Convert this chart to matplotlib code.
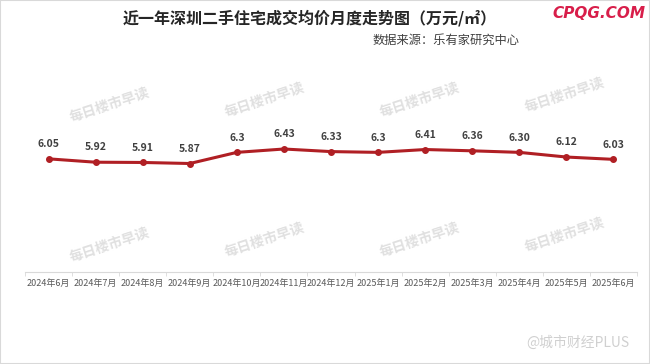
import matplotlib
matplotlib.use("Agg")
import matplotlib.pyplot as plt

plt.rcParams['font.family'] = ['Noto Sans CJK SC', 'DejaVu Sans']

months = ["2024年6月", "2024年7月", "2024年8月", "2024年9月", "2024年10月", "2024年11月",
          "2024年12月", "2025年1月", "2025年2月", "2025年3月", "2025年4月", "2025年5月", "2025年6月"]
prices = [6.05, 5.92, 5.91, 5.87, 6.30, 6.43, 6.33, 6.30, 6.41, 6.36, 6.30, 6.12, 6.03]
labels = ["6.05", "5.92", "5.91", "5.87", "6.3", "6.43", "6.33", "6.3", "6.41", "6.36", "6.30", "6.12", "6.03"]

W, H = 650, 364
fig = plt.figure(figsize=(W / 100, H / 100), dpi=100)
fig.patch.set_facecolor("white")

# axes in pixel coordinates: left 25, right 637, bottom y=272, top y=62
ax_l, ax_r, ax_b, ax_t = 25, 637, 272, 62
ax = fig.add_axes([ax_l / W, 1 - ax_b / H, (ax_r - ax_l) / W, (ax_b - ax_t) / H])
ax.set_facecolor("none")

x = list(range(len(months)))
ax.plot(x, prices, color="#B01F24", lw=2.2, marker="o", ms=4, zorder=3)
for xi, v, lab in zip(x, prices, labels):
    ax.annotate(lab, (xi, v), xytext=(0, 7), textcoords="offset points",
                ha="center", va="bottom", fontsize=7.5, color="#404040", fontweight="bold")

ax.set_xlim(-0.5, len(months) - 0.5)
ax.set_ylim(1.68, 9.79)
ax.set_yticks([])
ax.set_xticks(x)
ax.set_xticklabels(months, fontsize=6.5, color="#595959")
ax.set_xticks([i + 0.5 for i in range(-1, len(months))], minor=True)
ax.tick_params(axis="x", which="major", length=0, pad=5)
ax.tick_params(axis="x", which="minor", length=3, color="#D9D9D9")
for s in ["top", "right", "left"]:
    ax.spines[s].set_visible(False)
ax.spines["bottom"].set_color("#D9D9D9")

# titles
fig.text(310 / W, 1 - 18 / H, "近一年深圳二手住宅成交均价月度走势图（万元/㎡）", ha="center", va="center",
         fontsize=11.5, fontweight="bold", color="#262626")
fig.text(446 / W, 1 - 40 / H, "数据来源：乐有家研究中心", ha="center", va="center",
         fontsize=8.8, color="#404040")
fig.text(599 / W, 1 - 14 / H, "CPQG.COM", ha="center", va="center",
         fontsize=11, color="#D81E4A", fontstyle="italic", fontweight="bold", family=["DejaVu Sans"])

# watermarks
wm = dict(color="#E0E0E0", fontsize=10, fontweight="bold", rotation=18, ha="center", va="center")
for (px, py) in [(110, 105), (265, 100), (420, 100), (565, 95),
                 (110, 245), (265, 240), (420, 240), (565, 235)]:
    fig.text(px / W, 1 - py / H, "每日楼市早读", **wm)
fig.text(578 / W, 1 - 343 / H, "@城市财经PLUS", ha="center", va="center",
         fontsize=10, color="#D0D0D0")

# frame border
fig.add_artist(plt.Rectangle((0, 0), 1, 1, transform=fig.transFigure, fill=False,
                             ec="#D9D9D9", lw=1.5))

fig.savefig("out.png", dpi=100)
